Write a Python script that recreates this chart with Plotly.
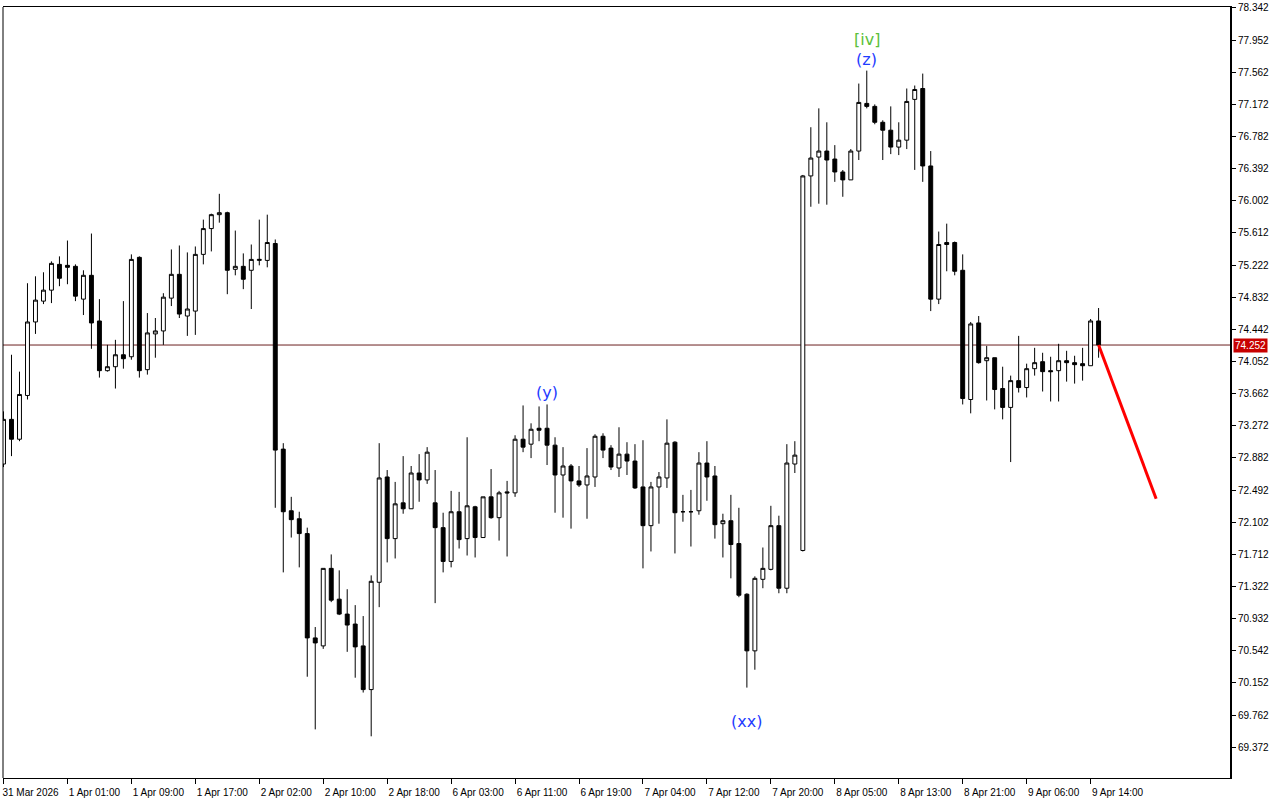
import plotly.graph_objects as go

# ---------------- data (hourly candles, 31 Mar 2026 -> 9 Apr 15:00) ----------------
opens = [72.808, 73.350, 73.109, 73.640, 74.532, 74.785, 74.918, 75.231, 75.219, 75.207,
         74.809, 75.098, 74.544, 73.941, 73.989, 74.134, 74.110, 75.316, 73.953, 74.387,
         74.423, 74.821, 75.110, 74.604, 74.664, 75.352, 75.665, 75.834, 75.858, 75.171,
         75.207, 75.159, 75.279, 75.279, 75.484, 72.989, 72.241, 72.144, 71.964, 70.698,
         70.601, 71.542, 71.168, 70.987, 70.866, 70.601, 70.071, 71.373, 72.651, 71.903,
         72.337, 72.265, 72.699, 72.615, 72.337, 72.036, 71.626, 72.229, 71.903, 72.289,
         71.916, 72.410, 72.157, 72.470, 72.458, 73.109, 73.049, 73.242, 73.242, 73.037,
         72.675, 72.784, 72.603, 72.554, 72.651, 73.145, 73.001, 72.760, 72.928, 72.844,
         72.530, 72.060, 72.530, 72.639, 73.073, 72.229, 72.229, 72.241, 72.820, 72.663,
         72.084, 72.120, 71.843, 71.228, 70.541, 71.409, 71.530, 72.060, 71.301, 72.808,
         71.759, 76.304, 76.533, 76.606, 76.509, 76.352, 76.256, 76.606, 77.184, 77.148,
         76.955, 76.859, 76.654, 76.738, 77.233, 77.365, 76.425, 74.809, 75.496, 75.496,
         75.159, 73.591, 74.520, 74.062, 74.098, 73.724, 73.495, 73.820, 73.736, 73.965,
         74.050, 73.941, 73.941, 74.062, 74.038, 74.026, 74.001, 74.544]

highs = [73.447, 74.134, 73.929, 75.002, 75.086, 75.135, 75.267, 75.328, 75.520, 75.231,
         75.159, 75.605, 74.809, 74.254, 74.315, 74.785, 75.352, 75.328, 74.640, 74.580,
         74.881, 75.412, 75.460, 75.376, 75.448, 75.774, 75.846, 76.087, 75.870, 75.641,
         75.364, 75.472, 75.774, 75.834, 75.533, 73.061, 72.410, 72.229, 72.036, 70.830,
         71.542, 71.711, 71.518, 71.289, 71.096, 70.963, 71.457, 73.061, 72.735, 72.591,
         72.904, 72.784, 72.928, 73.013, 72.735, 72.217, 72.482, 72.470, 73.133, 72.301,
         72.410, 72.747, 72.482, 72.603, 73.157, 73.519, 73.302, 73.507, 73.531, 73.133,
         73.013, 72.808, 72.784, 73.001, 73.169, 73.181, 73.037, 73.254, 73.073, 73.049,
         73.097, 72.591, 72.711, 73.350, 73.085, 72.434, 72.494, 72.952, 73.085, 72.784,
         72.205, 72.434, 72.277, 71.240, 71.445, 71.795, 72.301, 72.181, 73.049, 73.085,
         76.316, 76.895, 77.124, 76.955, 76.678, 76.376, 76.630, 77.425, 77.582, 77.172,
         76.979, 77.148, 76.955, 77.365, 77.401, 77.546, 76.606, 75.629, 75.725, 75.508,
         75.352, 74.532, 74.604, 74.242, 74.098, 73.989, 73.881, 74.363, 74.026, 74.218,
         74.158, 74.110, 74.267, 74.182, 74.122, 74.218, 74.568, 74.701]

lows = [72.771, 72.904, 73.085, 73.591, 74.387, 74.749, 74.761, 74.966, 74.990, 74.785,
        74.616, 74.206, 73.857, 73.929, 73.724, 73.965, 74.074, 73.857, 73.893, 74.098,
        74.254, 74.725, 74.580, 74.363, 74.375, 75.231, 75.388, 75.737, 74.869, 75.098,
        74.930, 74.689, 75.219, 75.195, 72.277, 71.493, 71.916, 71.554, 70.227, 69.588,
        70.565, 71.132, 70.975, 70.529, 70.215, 70.035, 69.504, 71.071, 71.614, 71.662,
        72.205, 72.265, 72.350, 72.567, 71.120, 71.493, 71.554, 71.783, 71.698, 71.674,
        71.916, 72.144, 71.879, 71.686, 72.410, 72.952, 72.880, 73.085, 72.796, 72.217,
        72.157, 72.024, 72.530, 72.144, 72.530, 72.880, 72.735, 72.651, 72.675, 72.506,
        71.542, 71.747, 72.084, 72.518, 71.723, 72.108, 71.807, 72.193, 72.362, 71.903,
        71.674, 71.421, 71.192, 70.095, 70.312, 71.301, 71.518, 71.240, 71.240, 72.699,
        71.747, 75.930, 75.967, 75.955, 76.232, 76.051, 76.256, 76.497, 77.124, 76.931,
        76.497, 76.569, 76.557, 76.630, 76.377, 76.232, 74.664, 74.749, 75.147, 75.098,
        73.531, 73.423, 74.026, 73.579, 73.471, 73.350, 72.832, 73.676, 73.616, 73.881,
        73.688, 73.567, 73.567, 73.808, 73.784, 73.820, 74.001, 74.098]

closes = [73.350, 73.109, 73.652, 74.532, 74.797, 74.918, 75.243, 75.062, 75.195, 74.845,
          75.098, 74.520, 73.941, 73.989, 74.134, 74.086, 75.291, 73.941, 74.399, 74.423,
          74.833, 75.110, 74.628, 74.689, 75.352, 75.665, 75.834, 75.858, 75.159, 75.207,
          75.050, 75.291, 75.291, 75.496, 72.977, 72.229, 72.133, 71.964, 70.698, 70.637,
          71.542, 71.156, 70.987, 70.854, 70.589, 70.071, 71.385, 72.639, 71.903, 72.325,
          72.265, 72.699, 72.615, 72.952, 72.036, 71.626, 72.229, 71.891, 72.301, 71.916,
          72.410, 72.157, 72.458, 72.458, 73.109, 73.013, 73.230, 73.218, 73.037, 72.675,
          72.784, 72.603, 72.554, 72.663, 73.145, 72.977, 72.772, 72.928, 72.844, 72.518,
          72.060, 72.530, 72.651, 73.061, 72.217, 72.229, 72.229, 72.820, 72.651, 72.072,
          72.120, 71.831, 71.216, 70.541, 71.421, 71.542, 72.060, 71.301, 72.820, 72.916,
          76.304, 76.521, 76.606, 76.497, 76.352, 76.256, 76.606, 77.196, 77.148, 76.955,
          76.859, 76.654, 76.738, 77.208, 77.353, 76.425, 74.809, 75.472, 75.472, 75.147,
          73.603, 74.508, 74.038, 74.098, 73.712, 73.495, 73.820, 73.736, 73.965, 74.038,
          73.929, 73.929, 74.062, 74.038, 74.014, 74.001, 74.544, 74.252]

x_tick_labels = ["31 Mar 2026", "1 Apr 01:00", "1 Apr 09:00", "1 Apr 17:00", "2 Apr 02:00",
                 "2 Apr 10:00", "2 Apr 18:00", "6 Apr 03:00", "6 Apr 11:00", "6 Apr 19:00",
                 "7 Apr 04:00", "7 Apr 12:00", "7 Apr 20:00", "8 Apr 05:00", "8 Apr 13:00",
                 "8 Apr 21:00", "9 Apr 06:00", "9 Apr 14:00"]
x_tick_candle = [0, 8, 16, 24, 32, 40, 48, 56, 64, 72, 80, 88, 96, 104, 112, 120, 128, 136]

y_tick_labels = ["69.372", "69.762", "70.152", "70.542", "70.932", "71.322", "71.712", "72.102",
                 "72.492", "72.882", "73.272", "73.662", "74.052", "74.442", "74.832", "75.222",
                 "75.612", "76.002", "76.392", "76.782", "77.172", "77.562", "77.952", "78.342"]

# wave labels: (text, candle index, anchored to 'high' or 'low', colour)
wave_labels = [("(y)", 68, "high", "#1f3cff"),
               ("(xx)", 93, "low", "#1f3cff"),
               ("(z)", 108, "high", "#1f3cff"),
               ("[iv]", 108, "high2", "#5cbf3a")]

current_price = 74.252
forecast_index = [137, 144.2]
forecast_price = [74.252, 72.386]

assert len(opens) == len(highs) == len(lows) == len(closes), (len(opens), len(highs), len(lows), len(closes))
candle_index = list(range(len(opens)))

# ---------------- figure ----------------
fig = go.Figure()
fig.add_trace(go.Candlestick(
    x=candle_index, open=opens, high=highs, low=lows, close=closes,
    increasing=dict(line=dict(color="black", width=1), fillcolor="white"),
    decreasing=dict(line=dict(color="black", width=1), fillcolor="black"),
    whiskerwidth=0, showlegend=False, hoverinfo="skip"))

fig.add_trace(go.Scatter(x=forecast_index, y=forecast_price, mode="lines",
                         line=dict(color="#ff0000", width=3), showlegend=False,
                         hoverinfo="skip"))

fig.add_shape(type="line", xref="paper", x0=0, x1=1, yref="y",
              y0=current_price, y1=current_price,
              line=dict(color="#6b2020", width=1), layer="below")
fig.add_shape(type="line", xref="paper", x0=0, x1=0, yref="paper", y0=0, y1=1,
              line=dict(color="black", width=1))

annots = []
for text, i, where, color in wave_labels:
    if where == "low":
        y, ya, ys = lows[i], "top", -22
    elif where == "high":
        y, ya, ys = highs[i], "bottom", 0
    else:
        y, ya, ys = highs[i], "bottom", 20
    annots.append(dict(x=i, y=y, xref="x", yref="y", text=text, showarrow=False,
                       yanchor=ya, yshift=ys, font=dict(family="DejaVu Sans", size=16, color=color)))
annots.append(dict(x=1, y=current_price, xref="paper", yref="y", text="74.252",
                   showarrow=False, xanchor="left", xshift=3, bgcolor="#c80000",
                   borderpad=1, font=dict(family="Liberation Sans", size=10, color="white")))

fig.update_layout(
    width=1280, height=800,
    margin=dict(l=2, r=50, t=3, b=21),
    paper_bgcolor="white", plot_bgcolor="white",
    annotations=annots,
    xaxis=dict(range=[-0.0625, 153.44], tickmode="array", tickvals=x_tick_candle,
               ticktext=x_tick_labels, ticks="outside", ticklen=5, tickcolor="black",
               ticklabelshift=27, showgrid=False, zeroline=False,
               showline=True, linecolor="black", linewidth=1, mirror=True,
               rangeslider=dict(visible=False),
               tickfont=dict(family="Liberation Sans", size=10, color="black")),
    yaxis=dict(range=[68.998, 78.354], side="right", tickmode="array",
               tickvals=[float(v) for v in y_tick_labels], ticktext=y_tick_labels,
               ticks="outside", ticklen=4, tickcolor="black", showgrid=False,
               ticklabeloverflow="allow",
               zeroline=False, showline=True, linecolor="black", linewidth=2,
               tickfont=dict(family="Liberation Sans", size=10, color="black")),
)

fig.write_html("out.html", config={"displayModeBar": False},
               post_script="document.body.style.margin='0';document.body.style.padding='0';")
